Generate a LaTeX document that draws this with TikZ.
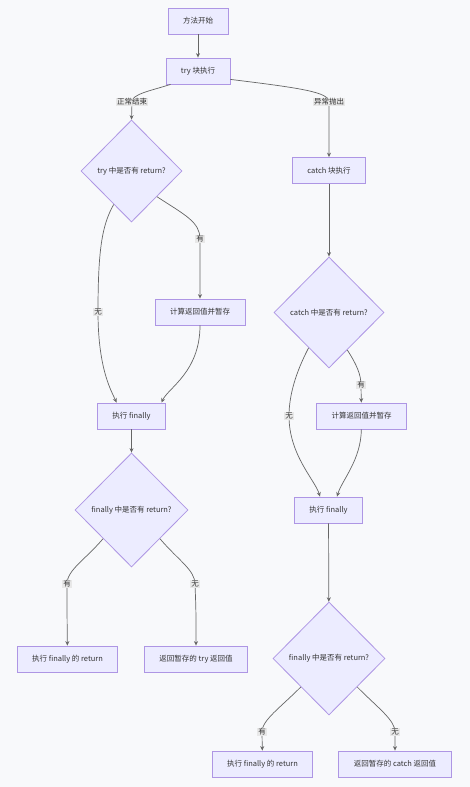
\documentclass[tikz,border=0pt]{standalone}
\usepackage{fontspec}
\setmainfont{Noto Sans CJK SC}
\usetikzlibrary{arrows.meta,shapes.geometric,positioning}

\definecolor{bg}{HTML}{F8F9FB}
\definecolor{nodefill}{HTML}{ECECFF}
\definecolor{nodeline}{HTML}{AE96E4}
\definecolor{txt}{HTML}{333333}
\definecolor{linec}{HTML}{666666}
\definecolor{lblfill}{HTML}{E8E8E8}

\tikzset{
  box/.style={draw=nodeline, fill=nodefill, text=txt, line width=0.8bp,
    minimum height=26bp, inner xsep=15bp, inner ysep=0pt},
  decision/.style={diamond, draw=nodeline, fill=nodefill, text=txt,
    line width=0.8bp, inner sep=0pt},
  lbl/.style={fill=lblfill, text=txt, inner sep=1bp},
  edge/.style={draw=linec, line width=0.7bp}
}

\begin{document}
\begin{tikzpicture}[x=1bp, y=-1bp, ->, >={Stealth[length=4.5bp,width=4bp]},
  font=\fontsize{7.5bp}{9bp}\selectfont]
  \fill[-, bg] (0,0) rectangle (470,787);
  \useasboundingbox (0,0) rectangle (470,787);

  % try side
  \node[box] (start) at (198,21) {方法开始};
  \node[box] (try) at (198,71) {try 块执行};
  \node[decision, minimum width=101bp, minimum height=102bp] (tryq) at (131.5,171) {try 中是否有 return?};
  \node[box] (tcalc) at (200,312) {计算返回值并暂存};
  \node[box] (tfin) at (131.5,416) {执行 finally};
  \node[decision, minimum width=113bp, minimum height=114bp] (tfq) at (131.5,510) {finally 中是否有 return?};
  \node[box] (tret) at (67.5,659) {执行 finally 的 return};
  \node[box] (tval) at (196,659) {返回暂存的 try 返回值};

  % catch side
  \node[box] (catch) at (329,170.5) {catch 块执行};
  \node[decision, minimum width=110bp, minimum height=111bp] (cq) at (329,312.5) {catch 中是否有 return?};
  \node[box] (ccalc) at (361.5,416) {计算返回值并暂存};
  \node[box] (cfin) at (328.5,510) {执行 finally};
  \node[decision, minimum width=112bp, minimum height=113bp] (cfq) at (329,658.5) {finally 中是否有 return?};
  \node[box] (cret) at (262.5,764) {执行 finally 的 return};
  \node[box] (cval) at (395,764) {返回暂存的 catch 返回值};

  \draw[edge] (start) -- (try);
  \draw[edge] ([xshift=5bp]try.south west) .. controls (150,91) and (132,94) .. (132,102) node[lbl] {正常结束} -- (tryq.north);
  \draw[edge] ([yshift=5bp]try.south east) .. controls (300,88) and (329,92) .. (329,102) node[lbl] {异常抛出} -- (catch);
  \draw[edge] (catch) -- (cq);

  \draw[edge] (tryq.south east) .. controls (185,215) and (200,222) .. (200,239) node[lbl] {有} .. controls (200,260) .. (tcalc);
  \draw[edge] (tryq.-118) .. controls (102,225) and (98,250) .. (98,312) node[lbl] {无} .. controls (98,370) and (112,392) .. ([xshift=-15bp]tfin.north);
  \draw[edge] (tcalc) .. controls (200,372) and (168,388) .. ([xshift=30bp]tfin.north);
  \draw[edge] (tfin) -- (tfq);
  \draw[edge] (tfq.south west) .. controls (85,560) and (67,570) .. (67,584) node[lbl] {有} .. controls (67,610) .. (tret);
  \draw[edge] (tfq.south east) .. controls (178,560) and (195,570) .. (195,584) node[lbl] {无} .. controls (196,610) .. (tval);

  \draw[edge] (cq.-64) .. controls (357,365) and (361,375) .. (361,385) node[lbl] {有} -- (ccalc);
  \draw[edge] (cq.-120) .. controls (296,372) and (289,395) .. (289,416) node[lbl] {无} .. controls (289,455) and (315,480) .. ([xshift=-8.5bp]cfin.north);
  \draw[edge] (ccalc) .. controls (361,460) and (342,480) .. ([xshift=8.5bp]cfin.north);
  \draw[edge] (cfin) -- (cfq);
  \draw[edge] (cfq.south west) .. controls (280,708) and (262,720) .. (262,732) node[lbl] {有} -- (cret);
  \draw[edge] (cfq.south east) .. controls (378,708) and (395,720) .. (395,732) node[lbl] {无} -- (cval);
\end{tikzpicture}
\end{document}
